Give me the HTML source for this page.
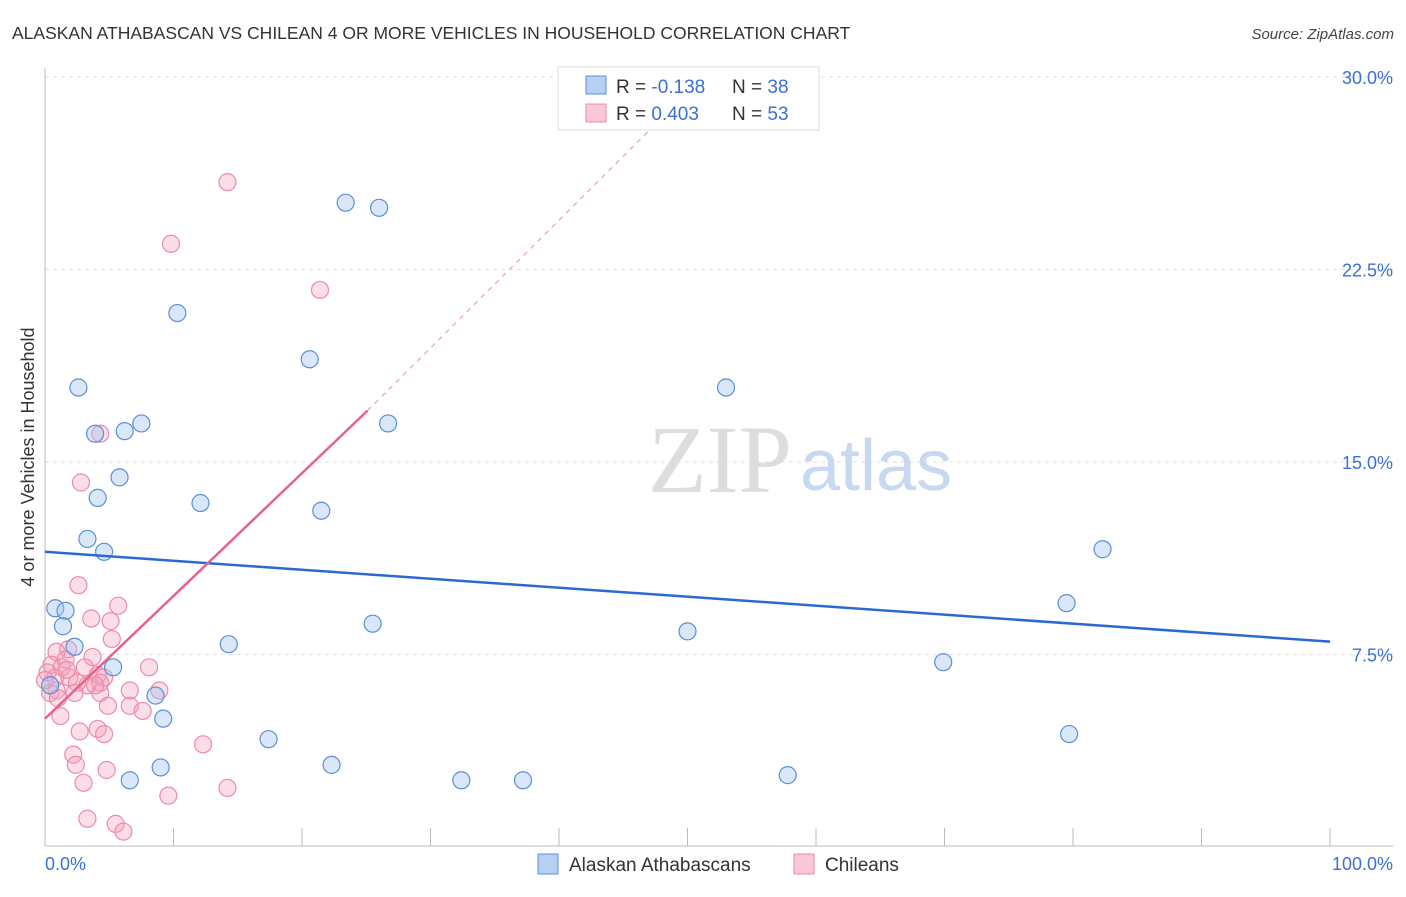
<!DOCTYPE html>
<html><head><meta charset="utf-8"><style>
body{margin:0;background:#fff;font-family:"Liberation Sans",sans-serif}
</style></head><body>
<svg id="c" width="1406" height="892" xmlns="http://www.w3.org/2000/svg"></svg>
<script>
const blueX=[0.8,1.6,1.4,2.3,5.3,8.6,9.2,6.6,9.0,17.4,22.3,32.4,37.2,57.8,79.7,69.9,50.0,79.5,82.3,25.5,14.3,4.6,3.3,4.1,12.1,21.5,5.8,3.9,6.2,7.5,26.7,2.6,20.6,53.0,10.3,23.4,26.0,0.4];
const blueY=[9.3,9.2,8.6,7.8,7.0,5.9,5.0,2.6,3.1,4.2,3.2,2.6,2.6,2.8,4.4,7.2,8.4,9.5,11.6,8.7,7.9,11.5,12.0,13.6,13.4,13.1,14.4,16.1,16.2,16.5,16.5,17.9,19.0,17.9,20.8,25.1,24.9,6.3];
const pinkX=[14.2,9.8,21.4,4.3,2.8,2.6,5.7,3.6,5.1,1.8,0.9,8.1,0.5,1.3,0.2,3.1,3.7,0.8,1.9,4.1,4.6,2.5,3.3,4.3,6.6,8.9,0.4,0.9,2.3,4.3,4.9,6.6,7.6,1.2,4.1,2.7,4.6,12.3,2.2,2.4,4.8,3.0,9.6,14.2,3.3,5.5,6.1,1.6,5.2,0.0,1.0,3.9,1.7];
const pinkY=[25.9,23.5,21.7,16.1,14.2,10.2,9.4,8.9,8.8,7.7,7.6,7.0,7.1,7.0,6.8,7.0,7.4,6.6,6.6,6.7,6.6,6.4,6.3,6.0,6.1,6.1,6.0,6.1,6.0,6.4,5.5,5.5,5.3,5.1,4.6,4.5,4.4,4.0,3.6,3.2,3.0,2.5,2.0,2.3,1.1,0.9,0.6,7.3,8.1,6.5,5.8,6.3,6.9];
const yTicks=[7.5,15,22.5,30];
const X=v=>45+v*12.85, Y=v=>847-v*25.67;
const s=document.getElementById('c');const NS='http://www.w3.org/2000/svg';
function el(t,a,p){const e=document.createElementNS(NS,t);for(const k in a)e.setAttribute(k,a[k]);(p||s).appendChild(e);return e;}
let t;
t=el('text',{x:12,y:39,'font-size':17.5,fill:'#333'});t.textContent='ALASKAN ATHABASCAN VS CHILEAN 4 OR MORE VEHICLES IN HOUSEHOLD CORRELATION CHART';

t=el('text',{x:1394,y:39,'font-size':15,fill:'#444','font-style':'italic','text-anchor':'end'});t.textContent='Source: ZipAtlas.com';

yTicks.forEach(v=>{const g=el('line',{x1:45,x2:1393,y1:Y(v),y2:Y(v),stroke:'#ddd','stroke-dasharray':'4,4'});

const l=el('text',{x:1393,y:Y(v)+7,'font-size':18,fill:'#3b6fd4','text-anchor':'end'});l.textContent=v.toFixed(1)+'%';
});
el('line',{x1:45,x2:45,y1:68,y2:846,stroke:'#bbb'});
el('line',{x1:45,x2:1393,y1:846,y2:846,stroke:'#bbb'});
for(let i=1;i<=10;i++){const g=el('line',{x1:X(i*10),x2:X(i*10),y1:828,y2:846,stroke:'#bbb'});}
t=el('text',{x:45,y:870,'font-size':18,fill:'#3b6fd4'});t.textContent='0.0%';
t=el('text',{x:1393,y:870,'font-size':18,fill:'#3b6fd4','text-anchor':'end'});t.textContent='100.0%';
t=el('text',{x:34,y:457,'font-size':18,fill:'#333','text-anchor':'middle',transform:'rotate(-90 34 457)'});t.textContent='4 or more Vehicles in Household';

t=el('text',{x:720,y:492,'font-size':96,fill:'#ddd','text-anchor':'middle','font-family':'Liberation Serif'});t.textContent='ZIP';

t=el('text',{x:800,y:490,'font-size':72,fill:'#c8d8f0'});t.textContent='atlas';
pinkX.forEach((x,i)=>{const c=el('circle',{cx:X(x),cy:Y(pinkY[i]),r:8.5,fill:'rgba(244,160,185,0.35)',stroke:'#ee8aa8','stroke-width':1.2});
});
blueX.forEach((x,i)=>{const c=el('circle',{cx:X(x),cy:Y(blueY[i]),r:8.5,fill:'rgba(160,195,240,0.4)',stroke:'#5a8fd8','stroke-width':1.2});
});
t=el('line',{x1:X(0),y1:Y(11.5),x2:X(100),y2:Y(8.0),stroke:'#2a6ad0','stroke-width':2.5});
t=el('line',{x1:X(0),y1:Y(5.0),x2:X(25.1),y2:Y(17.0),stroke:'#e8628e','stroke-width':2.5});
t=el('line',{x1:X(25.1),y1:Y(17.0),x2:X(47.8),y2:Y(28.3),stroke:'#e8a0b8','stroke-width':1.2,'stroke-dasharray':'5,5'});
const lg=el('g',{});
el('rect',{x:558,y:67,width:261,height:63,fill:'#fff',stroke:'#ddd'},lg);
el('rect',{x:586,y:76,width:20,height:18,fill:'#b8d0f4',stroke:'#5a8fd8'},lg);
el('rect',{x:586,y:104,width:20,height:18,fill:'#f9c8d6',stroke:'#ee8aa8'},lg);
[['R = ','-0.138','38',93],['R = ','0.403','53',120]].forEach(r=>{
const a=el('text',{x:616,y:r[3],'font-size':19,fill:'#333'},lg);a.innerHTML='R = <tspan fill="#3b6fd4">'+r[1]+'</tspan>';
const b=el('text',{x:732,y:r[3],'font-size':19,fill:'#333'},lg);b.innerHTML='N = <tspan fill="#3b6fd4">'+r[2]+'</tspan>';});
const bl=el('g',{});
el('rect',{x:538,y:854,width:20,height:20,fill:'#b8d0f4',stroke:'#5a8fd8'},bl);
t=el('text',{x:569,y:871,'font-size':19,fill:'#333'},bl);t.textContent='Alaskan Athabascans';
el('rect',{x:794,y:854,width:20,height:20,fill:'#f9c8d6',stroke:'#ee8aa8'},bl);
t=el('text',{x:825,y:871,'font-size':19,fill:'#333'},bl);t.textContent='Chileans';
</script>
</body></html>
